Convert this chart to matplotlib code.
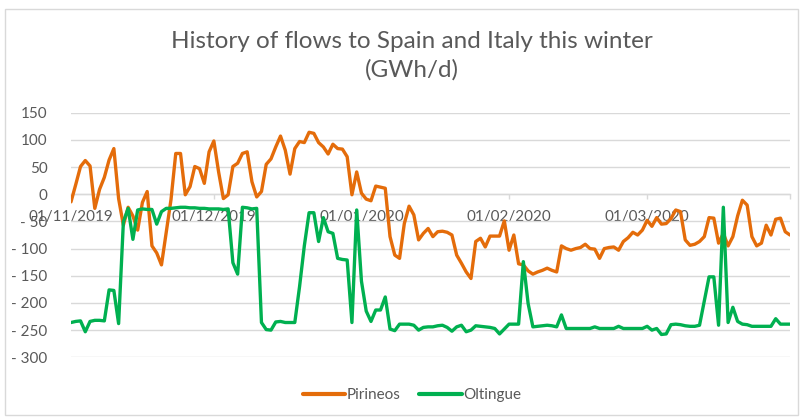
import matplotlib
matplotlib.use("Agg")
import matplotlib.pyplot as plt
import matplotlib.dates as mdates
import matplotlib.ticker as mticker
from matplotlib.patches import Rectangle
import datetime as dt

# ---------------- data ----------------
start_date = dt.date(2019, 11, 1)
n_days = 152  # 01/11/2019 .. 31/03/2020

pirineos = [
    -14, 18, 51, 62, 52, -26, 9, 31, 63, 84,
    -8, -57, -24, -40, -66, -15, 5, -95, -108, -130,
    -70, -10, 75, 75, -1, 14, 51, 47, 20, 78,
    98, 41, -8, -1, 51, 57, 75, 78, 23, -5,
    5, 55, 65, 87, 107, 81, 37, 84, 97, 95,
    114, 112, 95, 87, 74, 92, 84, 83, 69, -1,
    41, 2, -9, -12, 15, 13, 11, -78, -112, -118,
    -54, -22, -38, -84, -72, -63, -78, -69, -68, -70,
    -75, -112, -127, -143, -155, -87, -81, -97, -77, -77,
    -77, -49, -103, -75, -128, -130, -141, -147, -143, -140,
    -136, -140, -143, -95, -100, -103, -100, -98, -92, -100,
    -101, -118, -100, -98, -97, -103, -87, -80, -70, -75,
    -66, -48, -59, -43, -55, -54, -45, -29, -32, -84,
    -94, -92, -87, -78, -43, -44, -90, -72, -95, -78,
    -40, -11, -20, -78, -95, -90, -57, -75, -46, -44,
    -69, -75,
]

oltingue = [
    -236, -234, -233, -253, -234, -232, -232, -233, -176, -177,
    -238, -51, -26, -83, -29, -27, -28, -28, -55, -32,
    -26, -26, -25, -24, -24, -25, -25, -26, -26, -27,
    -27, -27, -28, -27, -126, -147, -24, -25, -27, -26,
    -236, -249, -250, -235, -234, -236, -236, -236, -170, -95,
    -34, -34, -87, -43, -69, -72, -118, -120, -121, -236,
    -29, -160, -215, -234, -213, -213, -189, -248, -251, -239,
    -239, -239, -241, -250, -245, -244, -244, -242, -241, -245,
    -252, -244, -241, -253, -250, -242, -243, -244, -245, -247,
    -257, -248, -239, -239, -239, -124, -201, -244, -243, -242,
    -241, -242, -244, -222, -247, -247, -247, -247, -247, -247,
    -244, -247, -247, -247, -247, -243, -247, -247, -247, -247,
    -247, -243, -250, -247, -258, -257, -240, -239, -240, -242,
    -243, -243, -241, -197, -152, -152, -241, -24, -236, -208,
    -234, -239, -240, -243, -243, -243, -243, -243, -229, -239,
    -239, -239,
]

series_names = ["Pirineos", "Oltingue"]
series_colors = ["#E46C0A", "#00B050"]
title_text = "History of flows to Spain and Italy this winter\n(GWh/d)"
y_ticks = [150, 100, 50, 0, -50, -100, -150, -200, -250, -300]

dates = [start_date + dt.timedelta(days=i) for i in range(n_days)]
month_ticks = [dt.date(2019, 11, 1), dt.date(2019, 12, 1), dt.date(2020, 1, 1),
               dt.date(2020, 2, 1), dt.date(2020, 3, 1)]

# ---------------- figure ----------------
W, H = 802, 418
fig = plt.figure(figsize=(W / 100, H / 100), dpi=100)
fig.patch.set_facecolor("white")

# chart border
fig.add_artist(Rectangle((4.5 / W, 3.5 / H), (W - 9) / W, (H - 12) / H,
                         transform=fig.transFigure, fill=False,
                         edgecolor="#D9D9D9", linewidth=1.0))

left, right = 71 / W, 790 / W
top, bottom = 1 - 112.7 / H, 1 - 357.3 / H
ax = fig.add_axes([left, bottom, right - left, top - bottom])

font = "Lato"
txt_color = "#595959"

for vals, name, col in zip([pirineos, oltingue], series_names, series_colors):
    ax.plot(dates, vals, color=col, linewidth=2.4, label=name,
            solid_joinstyle="round", solid_capstyle="round", zorder=3)

ax.set_xlim(dates[0], dates[-1])
ax.set_ylim(-300, 150)
ax.set_yticks(y_ticks)


def yfmt(v, pos):
    v = int(round(v))
    return f"- {abs(v)}" if v < 0 else f"{v}"


ax.yaxis.set_major_formatter(mticker.FuncFormatter(yfmt))
ax.grid(axis="y", color="#D9D9D9", linewidth=1.0, zorder=0)
ax.set_axisbelow(True)

ax.xaxis.set_major_locator(mticker.FixedLocator(mdates.date2num(month_ticks)))
ax.xaxis.set_minor_locator(mticker.FixedLocator([mdates.date2num(dates[-1])]))
ax.xaxis.set_major_formatter(mdates.DateFormatter("%d/%m/%Y"))

for s in ["top", "right", "left"]:
    ax.spines[s].set_visible(False)
ax.spines["bottom"].set_position(("data", 0))
ax.spines["bottom"].set_color("#D9D9D9")
ax.spines["bottom"].set_linewidth(1.0)

ax.tick_params(axis="y", length=0, pad=17, labelsize=11, labelcolor=txt_color)
ax.tick_params(axis="x", which="both", direction="out", length=3.5, width=1,
               color="#D9D9D9", pad=8, labelsize=11, labelcolor=txt_color)
for lab in ax.get_xticklabels() + ax.get_yticklabels():
    lab.set_fontfamily(font)

fig.text(412 / W, 1 - 56 / H, title_text, ha="center", va="center",
         fontsize=17.5, color=txt_color, family=font, fontweight="normal",
         linespacing=1.42)

leg = fig.legend(loc="center", bbox_to_anchor=(412 / W, 1 - 395 / H),
                 ncol=2, frameon=False, handlelength=2.8, handletextpad=0.1,
                 columnspacing=1.2, prop={"family": font, "size": 11})
for t in leg.get_texts():
    t.set_color(txt_color)
for h in leg.get_lines():
    h.set_linewidth(3)

fig.savefig("out.png", dpi=100)
